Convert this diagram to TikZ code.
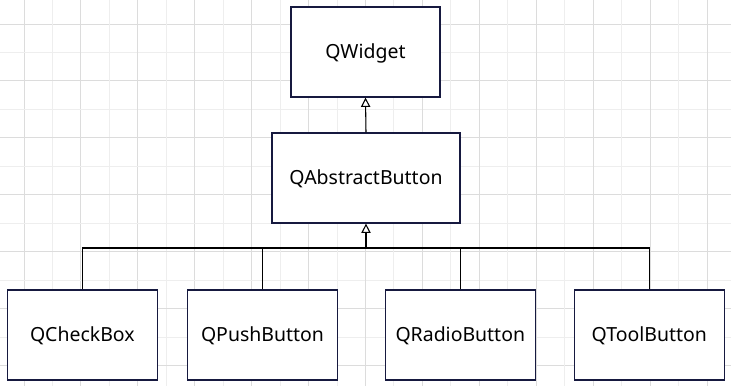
\documentclass[tikz,border=0pt]{standalone}
\usepackage{fontspec}
\setmainfont{Noto Sans}
\usetikzlibrary{arrows.meta}
\definecolor{gridmajor}{HTML}{DCDCDC}
\definecolor{gridminor}{HTML}{EEEEEE}
\definecolor{boxline}{HTML}{16193F}
\tikzset{
  classbox/.style={draw=boxline, line width=0.9pt, fill=white, rectangle,
    minimum height=67.5pt, font=\fontsize{14.6}{17}\selectfont, inner sep=0pt,
    text height=10.4pt, text depth=0pt},
  inherit/.style={draw=black, line width=0.8pt},
  inheritarrow/.style={inherit, -{Triangle[open, length=7pt, width=7pt, fill=white]}},
}
\begin{document}
\begin{tikzpicture}[x=0.75pt, y=-0.75pt]
  \useasboundingbox (0,0) rectangle (731,386);
  \fill[white] (0,0) rectangle (731,386);
  % background grid
  \foreach \i in {0,...,25} {
    \pgfmathsetmacro{\p}{24+\i*28.46}
    \pgfmathtruncatemacro{\odd}{mod(\i,2)}
    \ifnum\odd=0
      \draw[gridmajor, line width=0.75pt] (\p,0) -- (\p,386);
      \draw[gridmajor, line width=0.75pt] (0,\p) -- (731,\p);
    \else
      \draw[gridminor, line width=0.75pt] (\p,0) -- (\p,386);
      \draw[gridminor, line width=0.75pt] (0,\p) -- (731,\p);
    \fi
  }
  % classes
  \node[classbox, minimum width=111.75pt] (qw) at (365.5,52) {QWidget};
  \node[classbox, minimum width=141pt] (ab) at (366,178) {QAbstractButton};
  \node[classbox, minimum width=112.5pt] (cb) at (82.3,335) {QCheckBox};
  \node[classbox, minimum width=112.5pt] (pb) at (262.5,335) {QPushButton};
  \node[classbox, minimum width=112.5pt] (rb) at (460.3,335) {QRadioButton};
  \node[classbox, minimum width=112.5pt] (tb) at (649.3,335) {QToolButton};
  % inheritance
  \coordinate (bus) at (ab.south |- 0,248);
  \draw[inheritarrow] (ab.north) -- (qw.south);
  \foreach \c in {cb,pb,rb,tb}
    \draw[inherit] (\c.north) |- (bus);
  \draw[inheritarrow] (bus) -- (ab.south);
\end{tikzpicture}
\end{document}
